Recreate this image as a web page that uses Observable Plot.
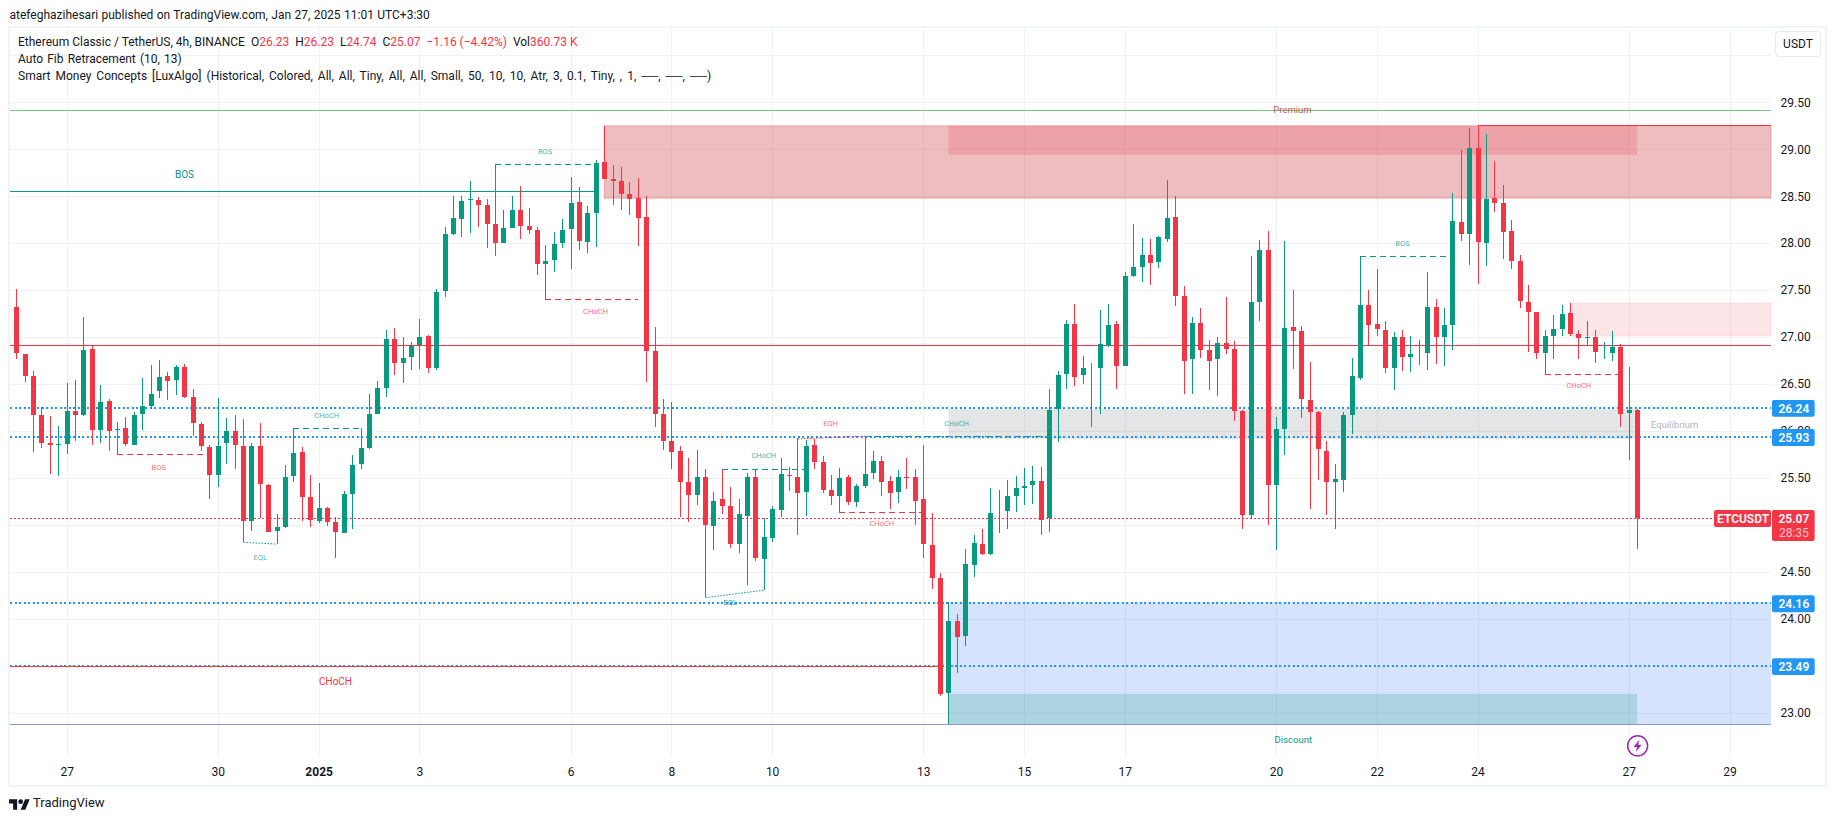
<!DOCTYPE html>
<html>
<head>
<meta charset="utf-8">
<script src="https://cdn.jsdelivr.net/npm/d3@7"></script>
<script src="https://cdn.jsdelivr.net/npm/@observablehq/plot@0.6"></script>
<style>
html,body{margin:0;padding:0;background:#fff;}
#page{position:relative;width:1835px;height:821px;overflow:hidden;font-family:Roboto,sans-serif;color:#131722;}
#page svg{position:absolute;left:0;top:26px;}
.t{position:absolute;white-space:pre;font-size:12px;line-height:16px;}
#frame{position:absolute;left:8px;top:26px;width:1815px;height:757px;border:2px solid #f0f3fa;pointer-events:none;}
#usdt{position:absolute;left:1775px;top:31px;width:44px;height:24px;border:1px solid #e6e9f0;border-radius:4px;text-align:center;line-height:24px;font-size:12px;background:#fff;}
.r{color:#f23645;}
</style>
</head>
<body>
<div id="page"></div>
<script>
const opens=[27.33,26.82,26.59,26.17,25.88,25.84,25.86,26.22,26.16,26.88,26.01,26.32,26.00,26.04,25.85,26.17,26.26,26.42,26.59,26.54,26.69,26.37,26.08,25.83,25.53,25.87,26.01,25.85,25.04,25.85,25.43,24.93,24.97,25.52,25.78,25.30,25.04,25.19,25.04,24.91,25.32,25.64,25.81,26.18,26.45,26.98,26.72,26.78,26.91,27.02,26.67,27.48,28.09,28.25,28.46,28.47,28.41,28.21,28.00,28.16,28.36,28.19,28.14,27.77,27.81,28.00,28.14,28.44,28.01,28.32,28.87,28.69,28.67,28.53,28.49,28.28,26.86,26.19,25.90,25.79,25.46,25.31,25.52,24.98,25.28,25.21,24.79,25.09,25.52,24.63,24.86,25.15,25.54,25.52,25.34,25.86,25.67,25.38,25.30,25.51,25.24,25.41,25.55,25.69,25.47,25.34,25.52,25.51,25.28,24.79,24.44,23.20,23.98,23.81,24.57,24.80,24.68,25.13,25.14,25.30,25.39,25.42,25.47,25.07,26.23,26.60,27.14,26.59,26.69,26.67,26.90,27.14,26.69,27.65,27.74,27.88,27.79,28.04,28.28,27.44,26.76,27.16,26.87,26.76,26.94,26.88,26.22,25.10,27.37,27.93,25.42,26.02,27.11,27.07,26.34,26.21,25.79,25.45,25.47,26.16,26.56,27.35,27.14,27.08,26.66,27.01,26.78,26.83,26.83,27.33,27.00,27.12,28.23,28.09,29.02,28.00,28.49,28.43,28.13,27.81,27.38,27.27,26.83,27.01,27.08,27.26,27.04,26.98,27.01,26.83,26.83,26.90,26.19,26.23];
const highs=[27.51,26.82,26.64,26.26,26.16,26.05,26.51,26.54,27.21,26.91,26.49,26.34,26.10,26.15,26.20,26.56,26.70,26.76,26.63,26.70,26.71,26.45,26.10,25.85,26.35,26.14,26.17,26.13,25.87,26.08,25.43,25.12,25.64,26.03,25.83,25.53,25.45,25.19,25.08,25.36,25.74,26.03,26.39,26.53,27.08,27.10,27.00,26.95,27.19,27.02,27.51,28.17,28.50,28.50,28.66,28.49,28.47,28.84,28.35,28.50,28.61,28.37,28.17,27.98,28.12,28.26,28.70,28.60,28.40,28.89,29.25,28.83,28.81,28.65,28.69,28.50,27.11,26.34,26.31,25.84,25.71,25.80,25.60,25.35,25.60,25.40,25.28,25.55,25.58,25.07,25.20,25.71,25.62,25.93,25.90,25.91,25.73,25.53,25.61,25.53,25.43,25.95,25.79,25.73,25.52,25.58,25.71,25.60,25.85,25.13,24.49,24.18,24.05,24.74,24.89,24.96,25.39,25.37,25.48,25.52,25.61,25.63,25.62,26.45,26.64,27.18,27.35,26.80,26.72,27.29,27.35,27.17,27.69,28.20,28.05,28.04,28.08,28.67,28.50,27.54,27.21,27.31,26.97,27.00,27.43,26.96,26.22,27.86,28.03,28.13,26.15,28.02,27.50,27.12,26.73,26.21,25.89,25.65,26.20,26.78,27.86,27.50,27.72,27.17,27.05,27.07,27.01,26.97,27.69,27.41,27.31,28.53,28.99,29.23,29.25,29.16,28.87,28.62,28.25,27.87,27.55,27.27,27.07,27.24,27.34,27.36,27.07,27.17,27.07,26.95,27.06,26.93,26.68,26.23];
const lows=[26.77,26.52,25.78,25.82,25.54,25.52,25.75,25.89,26.16,25.85,25.87,25.79,25.75,25.84,25.85,26.01,26.23,26.35,26.33,26.38,26.35,25.95,25.79,25.28,25.40,25.65,25.60,24.82,24.93,25.07,24.92,24.80,24.97,25.46,25.04,24.98,25.02,24.99,24.65,24.91,24.96,25.60,25.81,26.18,26.36,26.60,26.51,26.65,26.66,26.62,26.65,27.43,28.09,28.07,28.11,28.17,27.95,27.86,28.00,28.16,28.04,28.10,27.66,27.41,27.69,27.95,27.72,27.93,27.90,27.96,28.68,28.41,28.35,28.30,27.97,26.52,26.04,25.80,25.60,25.08,25.03,25.21,24.23,24.73,25.12,24.75,24.70,24.36,24.62,24.31,24.82,25.08,25.36,24.89,25.09,25.60,25.34,25.21,25.14,25.21,25.19,25.39,25.49,25.31,25.17,25.23,25.38,25.00,24.65,24.32,23.18,22.88,23.42,23.71,24.45,24.68,24.68,24.91,24.96,25.14,25.21,25.22,24.89,24.92,25.88,26.45,26.48,26.50,26.04,26.18,26.89,26.45,26.69,27.64,27.59,27.55,27.74,28.01,27.33,26.39,26.39,26.78,26.44,26.37,26.82,26.11,24.96,25.07,27.17,25.00,24.73,25.74,26.66,26.14,25.17,25.48,25.10,24.96,25.35,25.97,26.54,26.91,27.01,26.62,26.44,26.64,26.63,26.70,26.65,26.71,26.69,26.86,28.02,27.77,27.56,27.76,28.33,27.83,27.72,27.31,26.84,26.77,26.61,26.77,27.01,27.01,26.77,26.90,26.72,26.77,26.75,26.04,25.69,24.74];
const closes=[26.82,26.58,26.16,25.87,25.85,25.87,26.22,26.16,26.87,26.01,26.31,25.99,26.03,25.86,26.18,26.27,26.40,26.58,26.53,26.69,26.36,26.08,25.83,25.53,25.85,26.01,25.85,25.04,25.85,25.43,24.92,24.98,25.52,25.77,25.29,25.05,25.19,25.03,24.92,25.33,25.64,25.82,26.19,26.46,26.98,26.72,26.78,26.91,27.01,26.67,27.49,28.10,28.27,28.45,28.47,28.40,28.20,28.00,28.17,28.36,28.18,28.13,27.77,27.82,28.00,28.14,28.43,28.02,28.33,28.86,28.68,28.66,28.52,28.47,28.26,26.85,26.18,25.89,25.77,25.45,25.31,25.52,24.99,25.26,25.20,24.79,25.12,25.51,24.64,24.88,25.17,25.55,25.51,25.33,25.85,25.66,25.37,25.30,25.50,25.24,25.42,25.55,25.69,25.45,25.33,25.51,25.49,25.25,24.79,24.43,23.19,23.98,23.80,24.59,24.81,24.68,25.13,25.14,25.31,25.40,25.42,25.47,25.05,26.23,26.60,27.14,26.57,26.68,26.68,26.93,27.13,26.69,27.66,27.75,27.88,27.78,28.07,28.27,27.43,26.74,27.16,26.86,26.74,26.94,26.87,26.21,25.10,27.38,27.93,25.42,26.03,27.10,27.06,26.33,26.20,25.80,25.45,25.49,26.17,26.59,27.35,27.12,27.08,26.66,27.01,26.78,26.82,26.84,27.32,27.00,27.13,28.24,28.09,29.02,28.01,28.48,28.42,28.11,27.80,27.38,27.26,26.83,27.02,27.09,27.25,27.03,26.98,27.01,26.84,26.84,26.90,26.18,26.23,25.07];

const dayTicks=[6,24,36,48,66,78,90,108,120,132,150,162,174,192,204];
const dayLabels=["27","30","2025","3","6","8","10","13","15","17","20","22","24","27","29"];
const priceGrid=[23,23.5,24,24.5,25,25.5,26,26.5,27,27.5,28,28.5,29,29.5,30];
const priceAxis=[23,23.5,24,24.5,25,25.5,26,26.5,27,27.5,28,28.5,29,29.5];

const fibLevels=[26.24,25.93,24.16,23.49];
const lastClose=25.07;
const premiumLevel=29.415, discountLevel=22.876, midLevel=26.912;

const zones=[
 {x1:70,x2:null,y1:28.478,y2:29.25,fill:"#c32330",op:.3,stroke:"#f23645",so:.3},
 {x1:111,x2:193,y1:28.94,y2:29.25,fill:"#f23645",op:.2,stroke:"none",so:0},
 {x1:185,x2:null,y1:27.011,y2:27.362,fill:"#f23645",op:.13,stroke:"#f23645",so:.1},
 {x1:111,x2:192.7,y1:25.914,y2:26.234,fill:"#787b86",op:.2,stroke:"none",so:0},
 {x1:111,x2:null,y1:22.876,y2:24.175,fill:"#226cef",op:.19,stroke:"none",so:0},
 {x1:111,x2:193,y1:22.876,y2:23.2,fill:"#089981",op:.2,stroke:"none",so:0}
];
const dashed=[
 {x1:12,x2:23,y:25.75,c:"#f23645"},
 {x1:33,x2:41,y:26.03,c:"#089981"},
 {x1:57,x2:69,y:28.84,c:"#089981"},
 {x1:63,x2:74,y:27.41,c:"#f23645"},
 {x1:84,x2:94,y:25.60,c:"#089981"},
 {x1:101,x2:123,y:25.945,c:"#089981"},
 {x1:98,x2:108,y:25.14,c:"#f23645"},
 {x1:160,x2:171,y:27.86,c:"#089981"},
 {x1:182,x2:190.7,y:26.61,c:"#f23645"}
];
const solid=[
 {x1:null,x2:69,y:28.559,c:"#089981"},
 {x1:null,x2:110,y:23.493,c:"#f23645"},
 {x1:174,x2:null,y:29.255,c:"#f23645"}
];
const equals=[
 {x1:27,y1:24.82,x2:31,y2:24.80,c:"#089981"},
 {x1:82,y1:24.23,x2:89,y2:24.31,c:"#089981"},
 {x1:93,y1:25.92,x2:101,y2:25.95,c:"#f23645"}
];
const labels=[
 {t:"BOS",x:19.97,y:28.73,c:"#089981",s:10,o:1},
 {t:"CHoCH",x:37.95,y:23.33,c:"#f23645",s:10,o:1},
 {t:"BOS",x:16.9,y:25.62,c:"#f23645",s:7.5,o:.75},
 {t:"EQL",x:29,y:24.66,c:"#089981",s:7.5,o:.75},
 {t:"CHoCH",x:36.9,y:26.17,c:"#089981",s:7.5,o:.75},
 {t:"BOS",x:62.9,y:28.98,c:"#089981",s:7.5,o:.75},
 {t:"CHoCH",x:68.9,y:27.28,c:"#f23645",s:7.5,o:.75},
 {t:"CHoCH",x:88.95,y:25.74,c:"#089981",s:7.5,o:.75},
 {t:"EQL",x:84.95,y:24.18,c:"#089981",s:7.5,o:1},
 {t:"EQH",x:96.9,y:26.08,c:"#f23645",s:7.5,o:.75},
 {t:"CHoCH",x:111.9,y:26.08,c:"#089981",s:7.5,o:.75},
 {t:"CHoCH",x:103,y:25.02,c:"#f23645",s:7.5,o:.75},
 {t:"BOS",x:165,y:28.0,c:"#089981",s:7.5,o:.75},
 {t:"CHoCH",x:186,y:26.49,c:"#f23645",s:7.5,o:.75},
 {t:"Premium",x:151.9,y:29.42,c:"#b8604f",s:9.5,o:1},
 {t:"Discount",x:152,y:22.72,c:"#089981",s:9.5,o:1},
 {t:"Equilibrium",x:197.4,y:26.07,c:"#b2b5be",s:9.5,o:1}
];

const X0=-0.75, X1=208.94, TAG0=209.06, TAG1=214.14, TAGM=211.6;
const candles=opens.map((o,i)=>({i,o,h:highs[i],l:lows[i],c:closes[i]}));
const col=d=>d.c>=d.o?"#089981":"#f23645";
const bolt={draw(c){c.moveTo(1.8,-6);c.lineTo(-4.2,1.2);c.lineTo(-0.6,1.2);c.lineTo(-1.8,6);c.lineTo(4.2,-1.2);c.lineTo(0.6,-1.2);c.closePath();}};
const fibTags=fibLevels.map(v=>({v}));
const crisp={shapeRendering:"crispEdges"};

const chart=Plot.plot({
 width:1835,height:760,
 marginLeft:10,marginRight:64,marginTop:2,marginBottom:29,
 x:{domain:[X0,X1],axis:null},
 y:{domain:[22.528,30.291],axis:null},
 style:{fontFamily:"Roboto, sans-serif",background:"transparent",overflow:"visible"},
 marks:[
  Plot.ruleY(priceGrid,{stroke:"#f0f1f4",...crisp}),
  Plot.ruleX(dayTicks,{stroke:"#f0f1f4",...crisp}),
  Plot.rect(zones,{x1:d=>d.x1,x2:d=>d.x2===null?X1:d.x2,y1:"y1",y2:"y2",fill:"fill",fillOpacity:"op",stroke:"stroke",strokeOpacity:"so"}),
  Plot.ruleY([premiumLevel],{stroke:"#81c784",strokeWidth:1,...crisp}),
  Plot.ruleY([midLevel],{stroke:"#f23645",strokeWidth:1,...crisp}),
  Plot.ruleY([discountLevel],{stroke:"#8a97c5",strokeWidth:1,...crisp}),
  Plot.ruleY([lastClose],{x1:X0,x2:202.15,stroke:"#f23645",strokeWidth:1,strokeDasharray:"1.5 2.5",...crisp}),
  Plot.ruleY(fibLevels,{stroke:"#2196f3",strokeWidth:2,strokeDasharray:"2 2.5",dy:-1,...crisp}),
  Plot.ruleY(solid,{y:"y",x1:d=>d.x1===null?X0:d.x1,x2:d=>d.x2===null?X1:d.x2,stroke:"c",strokeWidth:1,...crisp}),
  Plot.ruleY(dashed,{y:"y",x1:"x1",x2:"x2",stroke:"c",strokeWidth:1,strokeDasharray:"6 4",...crisp}),
  Plot.link(equals,{x1:"x1",y1:"y1",x2:"x2",y2:"y2",stroke:"c",strokeWidth:1,strokeDasharray:"1.5 1.5",markerEnd:"none"}),
  Plot.ruleX(candles,{x:"i",y1:"l",y2:"h",stroke:col,strokeWidth:1,...crisp}),
  Plot.ruleX(candles,{x:"i",y1:d=>Math.min(d.o,d.c),y2:d=>Math.max(d.o,d.c),stroke:col,strokeWidth:5,insetTop:-0.5,insetBottom:-0.5,...crisp}),
  Plot.text(labels,{x:"x",y:"y",text:"t",fill:"c",fontSize:"s",fillOpacity:"o"}),
  Plot.axisY(priceAxis,{anchor:"right",tickSize:0,tickPadding:9,tickFormat:d3.format(".2f"),fontSize:12,color:"#131722",label:null}),
  Plot.axisX(dayTicks.filter(d=>d!==36),{anchor:"bottom",tickSize:0,tickPadding:10,tickFormat:d=>dayLabels[dayTicks.indexOf(d)],fontSize:12,color:"#131722",label:null}),
  Plot.axisX([36],{anchor:"bottom",tickSize:0,tickPadding:10,tickFormat:d=>dayLabels[dayTicks.indexOf(d)],fontSize:12,fontWeight:700,color:"#131722",label:null}),
  Plot.rect(fibTags,{x1:TAG0,x2:TAG1,y1:d=>d.v-0.09,y2:d=>d.v+0.09,fill:"#2196f3",rx:2}),
  Plot.text(fibTags,{x:TAGM,y:"v",text:d=>d.v.toFixed(2),fill:"white",fontSize:12,fontWeight:600}),
  Plot.rect([lastClose],{x1:TAG0,x2:TAG1,y1:d=>d-0.242,y2:d=>d+0.088,fill:"#f23645",rx:2}),
  Plot.rect([lastClose],{x1:202.15,x2:X1,y1:d=>d-0.093,y2:d=>d+0.088,fill:"#f23645",rx:2}),
  Plot.text([lastClose],{x:205.55,y:d=>d,text:()=>"ETCUSDT",fill:"white",fontSize:12,fontWeight:600}),
  Plot.text([lastClose],{x:TAGM,y:d=>d,text:d=>d.toFixed(2),fill:"white",fontSize:12,fontWeight:600}),
  Plot.text([lastClose],{x:TAGM,y:d=>d-0.154,text:()=>"28:35",fill:"#fcc5cb",fontSize:12}),
  Plot.dot([{x:193,y:22.652}],{x:"x",y:"y",r:10,stroke:"#9c27b0",strokeWidth:1.5,fill:"white"}),
  Plot.dot([{x:193,y:22.652}],{x:"x",y:"y",r:6,symbol:bolt,fill:"#9c27b0",stroke:"none"})
 ]
});

const page=document.getElementById("page");
page.appendChild(chart);
function txt(html,left,cy,extra){const d=document.createElement("div");d.className="t";d.style.left=left+"px";d.style.top=(cy-8)+"px";if(extra)d.style.cssText+=extra;d.innerHTML=html;page.appendChild(d);return d;}
txt("atefeghazihesari published on TradingView.com, Jan 27, 2025 11:01 UTC+3:30",9.5,15,"word-spacing:.4px;");
txt('Ethereum Classic / TetherUS, 4h, BINANCE  O<span class="r">26.23</span>  H<span class="r">26.23</span>  L<span class="r">24.74</span>  C<span class="r">25.07</span>  <span class="r">−1.16 (−4.42%)</span>  Vol<span class="r">360.73 K</span>',18,41.7);
txt("Auto Fib Retracement (10, 13)",18,58.7,"word-spacing:1.2px;");
txt("Smart Money Concepts [LuxAlgo] (Historical, Colored, All, All, Tiny, All, All, Small, 50, 10, 10, Atr, 3, 0.1, Tiny, , 1, ──, ──, ──)",18,75.7,"word-spacing:2px;");
const fr=document.createElement("div");fr.id="frame";page.appendChild(fr);
const us=document.createElement("div");us.id="usdt";us.textContent="USDT";page.appendChild(us);
const logo=document.createElement("div");
logo.style.cssText="position:absolute;left:9px;top:796px;width:21px;height:14px;";
logo.innerHTML='<svg viewBox="0 0 36 24" width="21" height="14" style="position:static"><path fill="#131722" d="M14 22H7V11H0V4h14v18zM28 22h-8l7.5-18h8L28 22z"/><circle fill="#131722" cx="20" cy="8" r="4"/></svg>';
page.appendChild(logo);
txt("TradingView",33,803,"font-size:13px;");
</script>
</body>
</html>
